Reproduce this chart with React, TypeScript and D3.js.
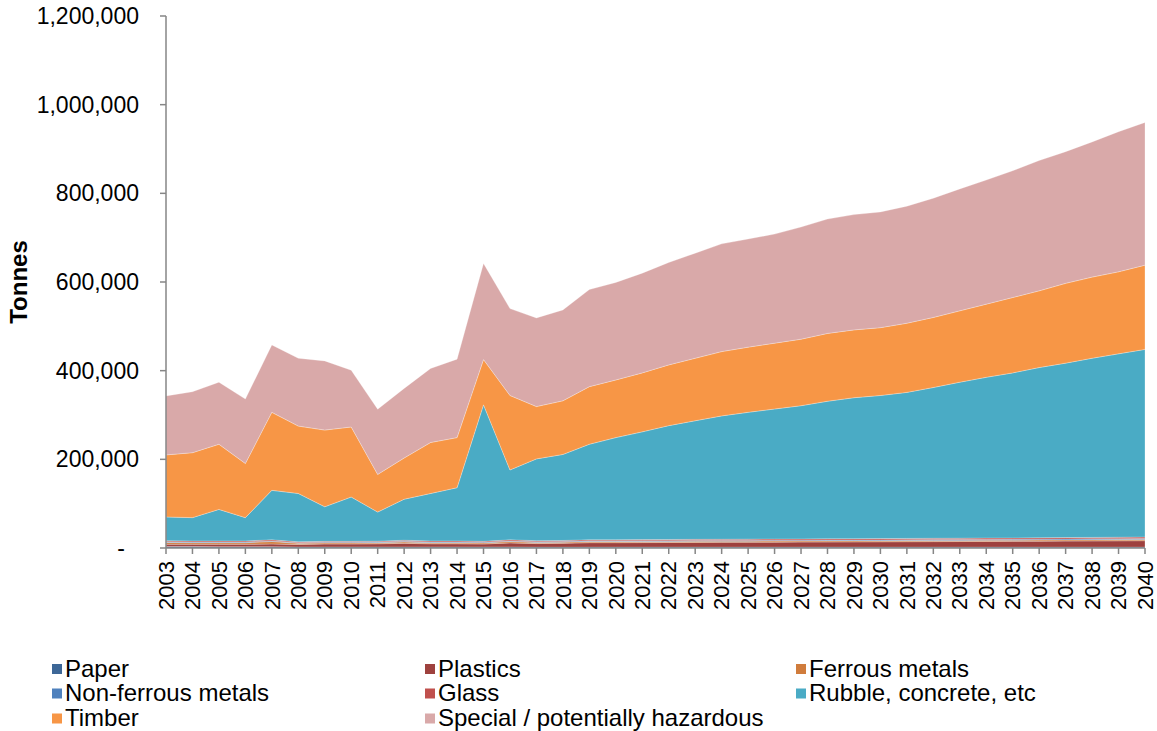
import * as d3 from "d3";

const years = [
  "2003", "2004", "2005", "2006", "2007", "2008", "2009", "2010", "2011", "2012",
  "2013", "2014", "2015", "2016", "2017", "2018", "2019", "2020", "2021", "2022",
  "2023", "2024", "2025", "2026", "2027", "2028", "2029", "2030", "2031", "2032",
  "2033", "2034", "2035", "2036", "2037", "2038", "2039", "2040",
];

const paper = [3500, 3500, 3000, 3000, 3000, 2500, 2500, 2500, 2500, 2500, 2500, 2500, 2500, 2500, 2000, 2000, 2000, 2000, 2000, 2000, 2000, 2000, 2000, 2000, 2000, 2000, 2000, 2000, 2000, 2000, 2000, 2000, 2000, 2000, 2000, 2000, 2000, 2000];
const plastics = [5000, 5000, 5500, 5500, 6000, 5500, 6500, 6500, 7000, 8000, 7000, 7000, 6500, 9000, 8000, 8500, 10000, 10000, 10200, 10400, 10600, 10800, 11000, 11200, 11400, 11600, 11800, 12000, 12200, 12400, 12600, 12800, 13000, 13300, 13600, 13900, 14200, 14500];
const ferrous = [4000, 3500, 3500, 3500, 5500, 2500, 2500, 2500, 2500, 3000, 2500, 2500, 2500, 3000, 2500, 2500, 2500, 2500, 2500, 2500, 2500, 2500, 2500, 2500, 2500, 2500, 2500, 2500, 2500, 2600, 2600, 2600, 2600, 2700, 2700, 2700, 2800, 2800];
const nonFerrous = [1500, 1500, 1500, 1500, 1500, 1500, 1500, 1500, 1500, 1500, 1500, 1500, 1500, 1500, 1500, 1500, 1600, 1600, 1600, 1600, 1700, 1700, 1700, 1700, 1800, 1800, 1800, 1800, 1900, 1900, 1900, 2000, 2000, 2000, 2100, 2100, 2100, 2200];
const glass = [2500, 2500, 2500, 2500, 2500, 2000, 2000, 2000, 2000, 2500, 2500, 2500, 2000, 2500, 2500, 2500, 2600, 2600, 2600, 2700, 2700, 2700, 2800, 2800, 2800, 2900, 2900, 2900, 3000, 3000, 3000, 3100, 3100, 3100, 3200, 3200, 3200, 3300];
const rubble = [53500, 52500, 71000, 52500, 111500, 109000, 78000, 100000, 65500, 92500, 107000, 120000, 308000, 157500, 184500, 194000, 215300, 230300, 243100, 256800, 267500, 278300, 286000, 293300, 300500, 310200, 318000, 322800, 329400, 340100, 351900, 362500, 372300, 383900, 393400, 404100, 413700, 423200];
const timber = [140000, 146500, 147000, 122000, 176000, 152000, 173000, 158000, 85000, 93000, 115000, 113000, 102000, 168000, 118000, 121000, 130000, 130000, 133000, 137000, 141000, 145000, 147000, 148500, 150000, 153000, 153000, 153000, 156000, 158000, 161000, 165000, 170000, 173000, 180000, 183000, 185000, 190000];
const special = [133000, 137500, 140000, 145400, 152000, 153000, 156000, 128000, 147000, 157000, 167000, 177000, 217000, 196000, 200000, 205000, 219000, 220000, 225000, 231000, 237000, 243000, 244000, 246000, 253000, 258000, 260000, 261000, 264000, 269000, 275000, 280000, 286000, 294000, 297000, 305000, 316000, 322000];

const seriesNames = [
  "Paper",
  "Plastics",
  "Ferrous metals",
  "Non-ferrous metals",
  "Glass",
  "Rubble, concrete, etc",
  "Timber",
  "Special / potentially hazardous",
];
const seriesValues = [paper, plastics, ferrous, nonFerrous, glass, rubble, timber, special];
const seriesColors = ["#3D6797", "#9E413E", "#D07C3C", "#4F81BD", "#C0504D", "#4AABC5", "#F79646", "#D9A9A9"];

const yTicks = [0, 200000, 400000, 600000, 800000, 1000000, 1200000];

const W = 1157;
const H = 731;
const FONT = "'Liberation Sans', Arial, sans-serif";

export default function App() {
  const x = d3.scalePoint<string>().domain(years).range([166, 1145]);
  const y = d3.scaleLinear().domain([0, 1200000]).range([548, 16]);

  const rows = years.map((yr, i) => {
    const r: Record<string, number | string> = { year: yr };
    seriesNames.forEach((n, k) => (r[n] = seriesValues[k][i]));
    return r;
  });
  const stacked = d3.stack<any>().keys(seriesNames)(rows);
  const area = d3
    .area<any>()
    .x((d) => x(d.data.year) as number)
    .y0((d) => y(d[0]))
    .y1((d) => y(d[1]));

  const fmt = d3.format(",");
  const axisColor = "#868686";

  // legend: 3 columns, filled row by row
  const legendCols = [52, 425, 796];
  const legendRows = [668.5, 693, 718];

  return (
    <svg
      width={W}
      height={H}
      style={{ position: "absolute", left: 0, top: 0, background: "#fff" }}
      fontFamily={FONT}
    >
      <g>
        {stacked.map((s, k) => (
          <path
            key={s.key}
            d={area(s) ?? ""}
            fill={seriesColors[k]}
            stroke="#ffffff"
            strokeOpacity={0.45}
            strokeWidth={0.6}
          />
        ))}
      </g>

      {/* y axis */}
      <line x1={166} x2={166} y1={y(1200000)} y2={y(0)} stroke={axisColor} strokeWidth={1.5} />
      {yTicks.map((t) => (
        <g key={t}>
          <line x1={160} x2={166} y1={y(t)} y2={y(t)} stroke={axisColor} strokeWidth={1.5} />
          <text
            x={t === 0 ? 125 : 139}
            y={y(t)}
            dy="0.35em"
            textAnchor="end"
            fontSize={23}
            fill="#000"
          >
            {t === 0 ? "-" : fmt(t)}
          </text>
        </g>
      ))}
      <text
        transform={`translate(27, ${(y(0) + y(1200000)) / 2}) rotate(-90)`}
        textAnchor="middle"
        fontSize={24}
        fontWeight="bold"
      >
        Tonnes
      </text>

      {/* x axis */}
      <line x1={166} x2={x("2040")} y1={548} y2={548} stroke={axisColor} strokeWidth={1.5} />
      {years.map((yr) => (
        <g key={yr}>
          <line x1={x(yr)} x2={x(yr)} y1={548} y2={554} stroke={axisColor} strokeWidth={1.5} />
          <text
            transform={`translate(${x(yr)}, 561) rotate(-90)`}
            dy="0.35em"
            textAnchor="end"
            fontSize={22}
          >
            {yr}
          </text>
        </g>
      ))}

      {/* legend */}
      {seriesNames.map((n, k) => {
        const cx = legendCols[k % 3];
        const cy = legendRows[Math.floor(k / 3)];
        return (
          <g key={n}>
            <rect x={cx} y={cy - 4.5} width={10} height={10} fill={seriesColors[k]} />
            <text x={cx + 13} y={cy} dy="0.35em" fontSize={24}>
              {n}
            </text>
          </g>
        );
      })}
    </svg>
  );
}
